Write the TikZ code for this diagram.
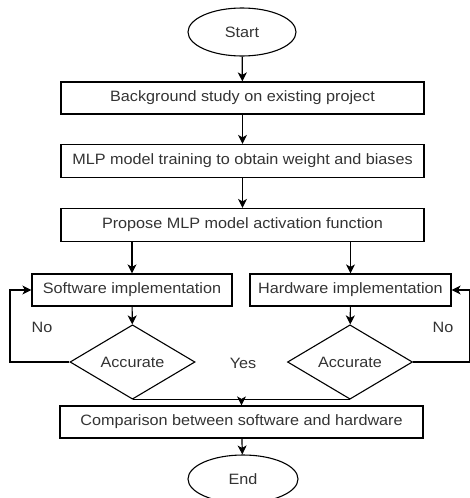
\documentclass[tikz,border=0pt]{standalone}
\usepackage{fontspec}
\setmainfont[FakeStretch=1.08]{Liberation Sans}
\usetikzlibrary{shapes.geometric,arrows.meta}
\begin{document}
\begin{tikzpicture}[x=1pt,y=-1pt,
  every node/.style={font=\fontsize{15}{17}\selectfont, text=black!80},
  proc/.style={draw=black, line width=1.2pt, rectangle, inner sep=0pt, minimum height=32pt},
  term/.style={draw=black, line width=1.1pt, ellipse, inner sep=0pt, minimum width=108pt, minimum height=48pt},
  decide/.style={draw=black, line width=1.1pt, diamond, inner sep=0pt, minimum width=125pt, minimum height=47pt},
  flow/.style={draw=black, line width=1.2pt, -{Stealth[length=9pt,width=9pt,inset=2.5pt]}},
  link/.style={draw=black, line width=1.2pt},
  lbl/.style={inner sep=0pt}]
\useasboundingbox (0,0) rectangle (470,498);
\clip (0,0) rectangle (470,498);

% main column
\node[term] (start) at (242,32) {Start};
\node[proc, minimum width=363pt] (bg) at (242.5,98) {Background study on existing project};
\node[proc, minimum width=363pt, minimum height=33pt] (train) at (242.5,161) {MLP model training to obtain weight and biases};
\node[proc, minimum width=363pt, minimum height=33pt] (act) at (242.5,225) {Propose MLP model activation function};

% two branches
\node[proc, minimum width=200pt] (sw) at (132,290) {Software implementation};
\node[proc, minimum width=201pt] (hw) at (350.5,290) {Hardware implementation};
\node[decide] (dsw) at (132.5,362) {Accurate};
\node[decide] (dhw) at (350,362) {Accurate};

% merge and finish
\node[proc, minimum width=363pt] (cmp) at (241.5,422) {Comparison between software and hardware};
\node[term, minimum width=110pt] (end) at (243,479) {End};

% loop-back columns
\coordinate (lx) at (10,0);
\coordinate (rx) at (470,0);

\draw[flow] (start) -- (bg);
\draw[flow] (bg) -- (train);
\draw[flow] (train) -- (act);
\draw[flow] (act.south -| sw) -- (sw);
\draw[flow] (act.south -| hw) -- (hw);
\draw[flow] (sw) -- (dsw);
\draw[flow] (hw) -- (dhw);
\draw[flow] (dsw.west) -- (dsw.west -| lx) |- (sw.west);
\draw[flow] (dhw.east) -- (dhw.east -| rx) |- (hw.east);
\draw[link] (dsw.south) -- (dhw.south);
\draw[flow] (dsw.south -| cmp.north) -- (cmp.north);
\draw[flow] (cmp) -- (end);

% branch labels
\node[lbl] (nol) at (42,327) {No};
\node[lbl] (nor) at (443,327) {No};
\node[lbl] (yes) at (243,363) {Yes};
\end{tikzpicture}
\end{document}
